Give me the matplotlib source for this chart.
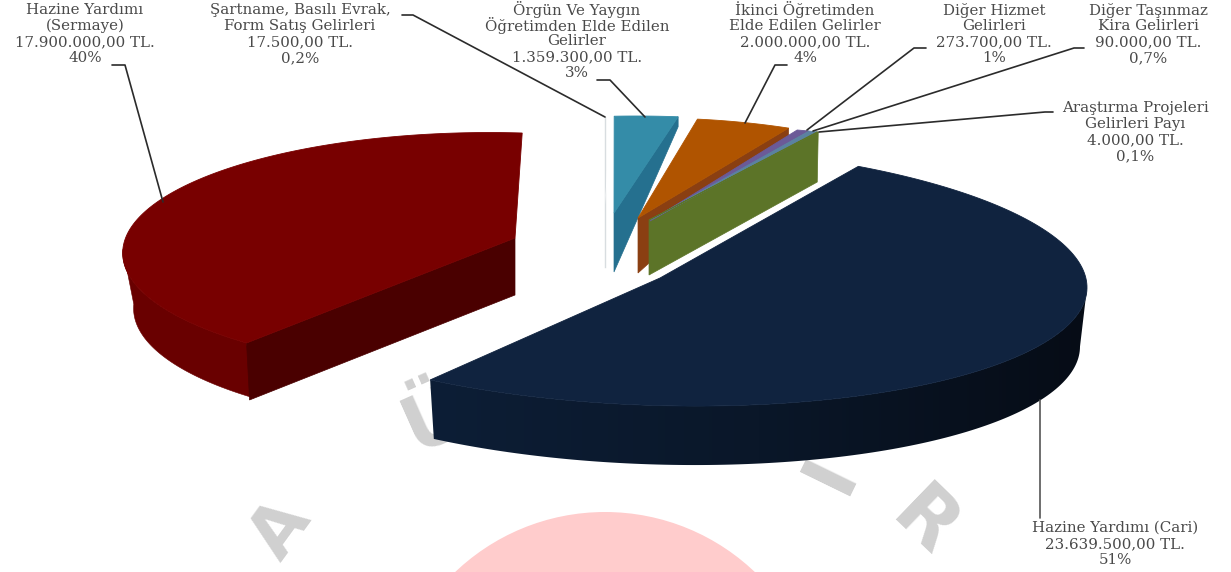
import numpy as np
import matplotlib
matplotlib.use("Agg")
import matplotlib.pyplot as plt
from matplotlib.colors import LinearSegmentedColormap
from matplotlib.patches import Circle, Polygon

# ---- data ----
labels = [
    "Hazine Yardımı (Cari)",
    "Hazine Yardımı\n(Sermaye)",
    "Şartname, Basılı Evrak,\nForm Satış Gelirleri",
    "Örgün Ve Yaygın\nÖğretimden Elde Edilen\nGelirler",
    "İkinci Öğretimden\nElde Edilen Gelirler",
    "Diğer Hizmet\nGelirleri",
    "Diğer Taşınmaz\nKira Gelirleri",
    "Araştırma Projeleri\nGelirleri Payı",
]
amounts = ["23.639.500,00 TL.", "17.900.000,00 TL.", "17.500,00 TL.", "1.359.300,00 TL.",
           "2.000.000,00 TL.", "273.700,00 TL.", "90.000,00 TL.", "4.000,00 TL."]
percent_text = ["51%", "40%", "0,2%", "3%", "4%", "1%", "0,7%", "0,1%"]
percents = [51, 40, 0.2, 3, 4, 1, 0.7, 0.1]

# ---- layout (pixel space of the figure) ----
START = -62.0
shapes = [
    dict(c=(656, 275.5), m=(431, 0, 12, 130), apex=(660, 278)),
    dict(c=(488, 252.6), m=(360, -62, 20, 118.4), apex=(515, 238)),
    dict(c=(636, 216), m=(340, 0, 0, 100), apex=(605, 205)),
    dict(c=(636, 216), m=(340, 0, 0, 100), apex=(614, 213)),
    dict(c=(651, 263), m=(375, 0, 0, 145), apex=(638, 218)),
    dict(c=(722, 170), m=(205, 0, 0, 43), apex=(650, 221)),
    dict(c=(722, 170), m=(205, 0, 0, 43), apex=(650, 220)),
    dict(c=(722, 170), m=(205, 0, 0, 43), apex=(649, 220)),
]
top_cols = ["#10233f", "#780000", "#ffffff", "#348ca8", "#b05400", "#6b5a98", "#5b82a0", "#5c7428"]
side_cols = ["#0c1c33", "#4a0000", "#ffffff", "#25708f", "#8a3f12", "#6b5a98", "#5b82a0", "#5c7428"]
# end of the slice whose flat side shows, depth at the apex, depth at the rim
sides = [None, ("start", 57, 57), None, ("end", 59, 10), ("end", 55, 9), None, None, ("end", 55, 50)]

leaders = [
    [(1040, 400), (1040, 518)],
    [(112, 65), (125, 65), (163, 202)],
    [(402, 15), (413, 15), (605, 117)],
    [(597, 80), (610, 80), (645, 117)],
    [(787, 65), (775, 65), (745, 123)],
    [(926, 48), (914, 48), (807, 130)],
    [(1084, 48), (1074, 48), (813, 131)],
    [(1053, 112), (1045, 112), (819, 132)],
]
leader_cols = ["#555555"] + ["#2b2b2b"] * 7
text_pos = [(1115, 528), (85, 10), (300, 10), (577, 9), (805, 10), (994, 10), (1148, 10), (1135, 108)]
LINE = 16.0
FONT = dict(family="DejaVu Serif", fontsize=10.8, color="#4a4a4a")

fig = plt.figure(figsize=(12.31, 5.72), dpi=100, facecolor="white")
ax = fig.add_axes([0, 0, 1, 1])
ax.axis("off")

# watermark
ax.add_patch(Circle((605, 729), 217, fc="#ffcccc", ec="none", zorder=0))
WM = dict(family="DejaVu Sans", fontweight="bold", color="#d0d0d0", ha="center", va="baseline",
          zorder=0, rotation_mode="anchor")
ax.text(296, 541, "A", rotation=54, fontsize=50, **WM)
ax.text(444, 439, "Ü", rotation=24, fontsize=55, **WM)
ax.text(850, 483, "I", rotation=64, fontsize=55, **WM)
ax.text(909, 539, "R", rotation=-44, fontsize=55, **WM)


def rim(s, t):
    t = np.radians(t)
    xx, xy, yx, yy = s["m"]
    return np.column_stack([s["c"][0] + xx * np.cos(t) + xy * np.sin(t),
                            s["c"][1] + yx * np.cos(t) + yy * np.sin(t)])


spans = np.array(percents) * 3.6
starts = START + np.concatenate([[0], np.cumsum(spans)[:-1]])
order = [1, 2, 3, 4, 5, 6, 7, 0]

for i in order:
    s, a0, a1 = shapes[i], starts[i], starts[i] + spans[i]
    arc = rim(s, np.linspace(a0, a1, 160))
    apex = np.array(s["apex"], float)
    z = 2 + order.index(i) * 0.1
    if sides[i]:
        end, dA, dR = sides[i]
        p = arc[0] if end == "start" else arc[-1]
        shift = 3 if i == 1 else (-1 if i == 7 else 0)
        q = [apex, p, p + (shift, dR), apex + (0, dA)]
        ax.add_patch(Polygon(q, fc=side_cols[i], ec=side_cols[i], lw=0.5, zorder=z))
    if i == 0:
        ts = np.linspace(0, a1, 120)
        top, bot = rim(s, ts), rim(dict(c=(656, 334.5), m=(424, 0, 12, 130)), ts)
        wall = Polygon(np.vstack([top, bot[::-1]]), fc="none", ec="none", zorder=z)
        ax.add_patch(wall)
        cmap = LinearSegmentedColormap.from_list("wall", ["#0d1e36", "#0a1729", "#060c16"])
        img = ax.imshow(np.linspace(0, 1, 256)[None, :], extent=(429, 1090, 480, 270), cmap=cmap,
                        aspect="auto", zorder=z, interpolation="bilinear")
        img.set_clip_path(wall)
    if i == 1:
        ts = np.linspace(a0, 172, 50)
        top, bot = rim(s, ts), rim(dict(c=(491, 307.6), m=(352, -62, 20, 118.4)), ts)
        ax.add_patch(Polygon(np.vstack([top, bot[::-1]]), fc="#690000", ec="#690000", lw=0.4, zorder=z - 0.05))
    if i == 2:
        ax.add_patch(Polygon(np.vstack([apex, arc]), fc="white", ec="none", zorder=z + 1))
    else:
        ax.add_patch(Polygon(np.vstack([apex, arc]), fc=top_cols[i], ec=top_cols[i], lw=0.6, zorder=z + 1))

# the white slice reads as a thin pale line
ax.plot([605, 605], [117, 267], color="#d8dde0", lw=1.0, zorder=3)

for pts, col in zip(leaders, leader_cols):
    xs, ys = zip(*pts)
    ax.plot(xs, ys, color=col, lw=1.2, zorder=4, solid_capstyle="round")

for (x, y), lab, am, pc in zip(text_pos, labels, amounts, percent_text):
    lines = lab.split("\n") + [am, pc]
    for k, ln in enumerate(lines):
        ax.text(x, y + k * LINE, ln, ha="center", va="center", zorder=5, **FONT)

ax.set_xlim(0, 1231)
ax.set_ylim(572, 0)
fig.savefig("out.png", dpi=100)
